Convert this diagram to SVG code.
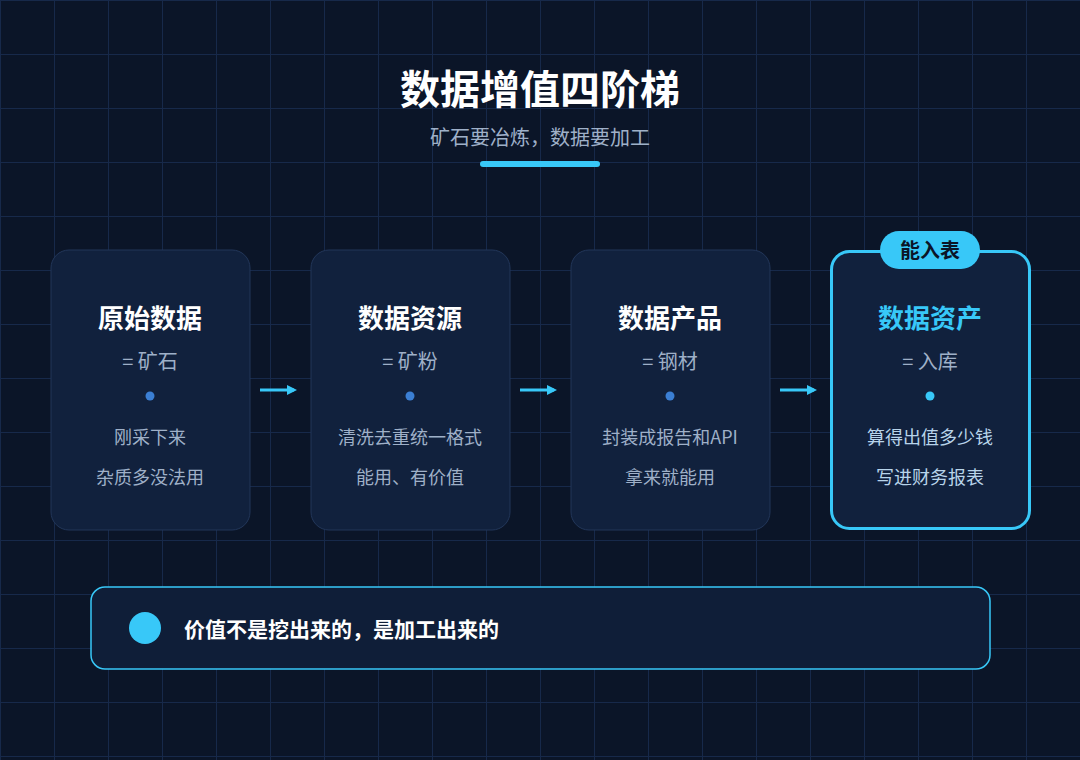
<svg xmlns="http://www.w3.org/2000/svg" width="1080" height="760" viewBox="0 0 1080 760">
<defs>
<pattern id="g" width="54" height="54" patternUnits="userSpaceOnUse"><path d="M0 0.5H54M0.5 0V54" fill="none" stroke="#17294a" stroke-width="1"/></pattern>
<marker id="ah" markerWidth="10" markerHeight="10" refX="7" refY="5" orient="auto" markerUnits="userSpaceOnUse"><path d="M0 0L10 5L0 10Z" fill="#38c8f8"/></marker>
<style>
text{font-family:"Noto Sans CJK SC","Noto Sans",sans-serif;text-anchor:middle}
.card{fill:#11213d;stroke:#223659;stroke-width:1}
.t{font-size:26px;font-weight:bold;fill:#ffffff}
.eq{font-size:20px;fill:#9fb0c8}
.d{font-size:18px;fill:#9fb0c8}
.dot{fill:#3b7fd4}
</style>
</defs>
<rect width="1080" height="760" fill="#0b1528"/>
<rect width="1080" height="760" fill="url(#g)"/>
<text x="540" y="104" font-size="40" font-weight="bold" fill="#ffffff">数据增值四阶梯</text>
<text x="540" y="145" font-size="20" fill="#9fb0c8">矿石要冶炼，数据要加工</text>
<rect x="480" y="161" width="120" height="6" rx="3" fill="#38c8f8"/>
<g id="n1"><rect class="card" x="51" y="250" width="199" height="280" rx="18"/><text class="t" x="150" y="328">原始数据</text><text class="eq" x="150" y="369">=  矿石</text><circle class="dot" cx="150" cy="396" r="4.5"/><text class="d" x="150" y="444">刚采下来</text><text class="d" x="150" y="484">杂质多没法用</text></g>
<g id="n2"><rect class="card" x="311" y="250" width="199" height="280" rx="18"/><text class="t" x="410" y="328">数据资源</text><text class="eq" x="410" y="369">=  矿粉</text><circle class="dot" cx="410" cy="396" r="4.5"/><text class="d" x="410" y="444">清洗去重统一格式</text><text class="d" x="410" y="484">能用、有价值</text></g>
<g id="n3"><rect class="card" x="571" y="250" width="199" height="280" rx="18"/><text class="t" x="670" y="328">数据产品</text><text class="eq" x="670" y="369">=  钢材</text><circle class="dot" cx="670" cy="396" r="4.5"/><text class="d" x="670" y="444">封装成报告和API</text><text class="d" x="670" y="484">拿来就能用</text></g>
<g id="n4"><rect x="831.5" y="251.5" width="198" height="277" rx="18" fill="#11213d" stroke="#38c8f8" stroke-width="3"/><rect x="880" y="231" width="100" height="38" rx="19" fill="#38c8f8"/><text x="930" y="258" font-size="20" font-weight="bold" fill="#0b1528">能入表</text><text class="t" x="930" y="328" fill="#38c8f8" style="fill:#38c8f8">数据资产</text><text class="eq" x="930" y="369">=  入库</text><circle cx="930" cy="396" r="4.5" fill="#38c8f8"/><text class="d" x="930" y="444" style="fill:#b8d4ea">算得出值多少钱</text><text class="d" x="930" y="484" style="fill:#b8d4ea">写进财务报表</text></g>
<g id="connectors" stroke="#38c8f8" stroke-width="3" marker-end="url(#ah)">
<line x1="260" y1="390" x2="294" y2="390"/><line x1="520" y1="390" x2="554" y2="390"/><line x1="780" y1="390" x2="814" y2="390"/>
</g>
<g id="banner"><rect x="91" y="587" width="899" height="82" rx="14" fill="#0f1e38" stroke="#38c8f8" stroke-width="1.5"/><circle cx="145" cy="628" r="16" fill="#38c8f8"/><text x="184" y="637" font-size="21" font-weight="bold" fill="#ffffff" style="text-anchor:start">价值不是挖出来的，是加工出来的</text></g>
</svg>
